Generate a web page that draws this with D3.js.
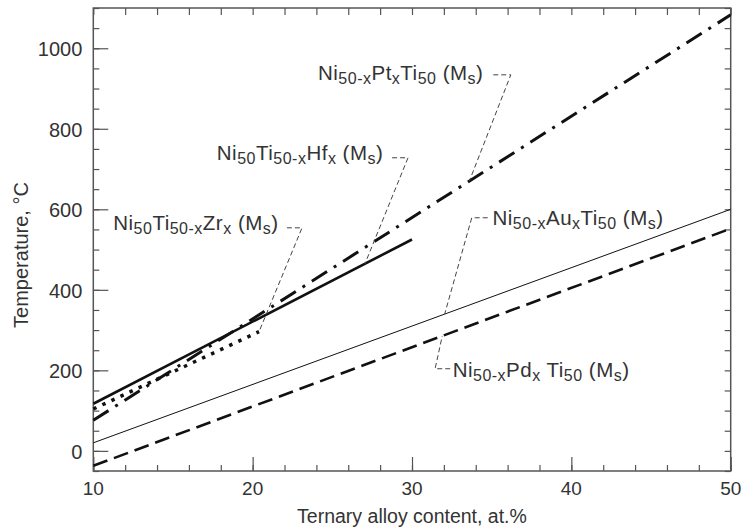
<!DOCTYPE html>
<html>
<head>
<meta charset="utf-8">
<script src="https://cdn.jsdelivr.net/npm/d3@7/dist/d3.min.js"></script>
<style>
body { margin: 0; background: #fff; }
text { font-family: "Liberation Sans", Arial, sans-serif; fill: #333; }
</style>
</head>
<body>
<div id="chart"></div>
<script>
// axis ticks
var xMajor = [10, 20, 30, 40, 50];
var yMajor = [0, 200, 400, 600, 800, 1000];

// series: x = ternary content (at.%), T = Ms temperature (C)
var hfX = [10, 30],   hfT = [117, 525];
var ptX = [10, 50],   ptT = [76, 1083];
var zrX = [10, 20.4], zrT = [104, 296];
var auX = [10, 50],   auT = [20, 600];
var pdX = [10, 50],   pdT = [-37, 552];

// label texts, [text, isSub]
var hfLabel = [["Ni",0],["50",1],["Ti",0],["50-x",1],["Hf",0],["x",1],[" (M",0],["s",1],[")",0]];
var ptLabel = [["Ni",0],["50-x",1],["Pt",0],["x",1],["Ti",0],["50",1],[" (M",0],["s",1],[")",0]];
var zrLabel = [["Ni",0],["50",1],["Ti",0],["50-x",1],["Zr",0],["x",1],[" (M",0],["s",1],[")",0]];
var auLabel = [["Ni",0],["50-x",1],["Au",0],["x",1],["Ti",0],["50",1],[" (M",0],["s",1],[")",0]];
var pdLabel = [["Ni",0],["50-x",1],["Pd",0],["x",1],[" Ti",0],["50",1],[" (M",0],["s",1],[")",0]];

var W = 743, H = 531;
var margin = {top: 8, right: 12.3, bottom: 60, left: 93.3};

var x = d3.scaleLinear().domain([10, 50]).range([margin.left, W - margin.right]);
var y = d3.scaleLinear().domain([-50, 1100]).range([H - margin.bottom, margin.top]);

var svg = d3.select("#chart").append("svg")
  .attr("width", W).attr("height", H);

var series = [
  {xs: hfX, ts: hfT, width: 2.6, dash: null},
  {xs: ptX, ts: ptT, width: 3, dash: "18,8,3,8"},
  {xs: zrX, ts: zrT, width: 3.5, dash: "3.5,6.5"},
  {xs: auX, ts: auT, width: 1, dash: null},
  {xs: pdX, ts: pdT, width: 2.6, dash: "15,7"}
];

function tAt(s, v) {
  return d3.scaleLinear().domain(s.xs).range(s.ts)(v);
}

// annotations: text anchor, leader hook, and x where the leader meets its line
var notes = [
  {parts: ptLabel, tx: 24.1, ty: 922, hook: [[35.1, 934], [36.2, 934]], s: 1, endX: 33.6},
  {parts: hfLabel, tx: 17.75, ty: 723, hook: [[28.75, 728], [29.75, 728]], s: 0, endX: 27.05},
  {parts: zrLabel, tx: 11.25, ty: 549, hook: [[22.15, 554], [23.1, 554]], s: 2, endX: 20.4},
  {parts: auLabel, tx: 35.05, ty: 561, hook: [[34.75, 579], [33.75, 579]], s: 3, endX: 32.05},
  {parts: pdLabel, tx: 32.55, ty: 184, hook: [[32.4, 204], [31.45, 204]], s: 4, endX: 31.9}
];

// frame + ticks
var g = svg.append("g");

function tickAxis(axis, tr, vals, size) {
  var a = g.append("g").attr("transform", tr)
    .call(axis.tickValues(vals).tickSize(size).tickFormat(""));
  a.select(".domain").remove();
  a.selectAll("line").attr("stroke", "#555").attr("stroke-width", 1.2);
  return a;
}

var xMinor = d3.range(10, 51, 2);
var yMinor = d3.range(-50, 1101, 50);
var bottomY = H - margin.bottom, rightX = W - margin.right;

tickAxis(d3.axisBottom(x), "translate(0," + bottomY + ")", xMinor, -6);
tickAxis(d3.axisBottom(x), "translate(0," + bottomY + ")", xMajor, -14);
tickAxis(d3.axisTop(x), "translate(0," + margin.top + ")", xMinor, -7);
tickAxis(d3.axisLeft(y), "translate(" + margin.left + ",0)", yMinor, -6);
tickAxis(d3.axisLeft(y), "translate(" + margin.left + ",0)", yMajor, -15);
tickAxis(d3.axisRight(y), "translate(" + rightX + ",0)", yMinor, -6);

g.append("rect")
  .attr("x", margin.left).attr("y", margin.top)
  .attr("width", rightX - margin.left).attr("height", bottomY - margin.top)
  .attr("fill", "none").attr("stroke", "#555").attr("stroke-width", 1.5);

// tick labels
svg.selectAll(".xl").data(xMajor).enter().append("text")
  .attr("x", function(d) { return x(d); }).attr("y", bottomY + 24)
  .attr("text-anchor", "middle").style("font-size", "19px")
  .text(function(d) { return d; });

svg.selectAll(".yl").data(yMajor).enter().append("text")
  .attr("x", margin.left - 11).attr("y", function(d) { return y(d) + 8; })
  .attr("text-anchor", "end").style("font-size", "20px")
  .text(function(d) { return d; });

svg.append("text")
  .attr("x", x(30)).attr("y", 523)
  .attr("text-anchor", "middle").style("font-size", "19.5px")
  .text("Ternary alloy content, at.%");

svg.append("text")
  .attr("transform", "translate(28,255) rotate(-90)")
  .attr("text-anchor", "middle").style("font-size", "20px")
  .text("Temperature, \u00b0C");

// lines
var line = d3.line().x(function(d) { return x(d[0]); }).y(function(d) { return y(d[1]); });

series.forEach(function(s) {
  svg.append("path")
    .datum(s.xs.map(function(v, i) { return [v, s.ts[i]]; }))
    .attr("d", line)
    .attr("fill", "none")
    .attr("stroke", "#111")
    .attr("stroke-width", s.width)
    .attr("stroke-dasharray", s.dash);
});

// leaders and labels
notes.forEach(function(n) {
  var s = series[n.s];
  var pts = n.hook.concat([[n.endX, tAt(s, n.endX)]]);
  svg.append("path").datum(pts).attr("d", line)
    .attr("fill", "none").attr("stroke", "#444").attr("stroke-width", 1)
    .attr("stroke-dasharray", "5,3");

  var t = svg.append("text")
    .attr("x", x(n.tx)).attr("y", y(n.ty))
    .style("font-size", "20.5px")
    .style("letter-spacing", "0.5px");
  var down = false;
  n.parts.forEach(function(p) {
    var sp = t.append("tspan").text(p[0]);
    if (p[1] && !down) { sp.attr("dy", 4).style("font-size", "16px"); down = true; }
    else if (p[1]) { sp.style("font-size", "16px"); }
    else if (down) { sp.attr("dy", -4); down = false; }
  });
});
</script>
</body>
</html>
